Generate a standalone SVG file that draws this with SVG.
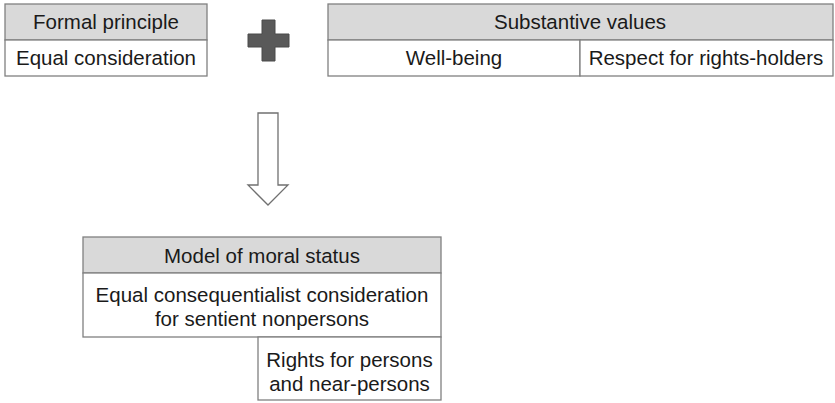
<svg xmlns="http://www.w3.org/2000/svg" width="835" height="403" viewBox="0 0 835 403">
<style>
.box{fill:#ffffff;stroke:#808080;stroke-width:1.3}
.hdr{fill:#d9d9d9;stroke:#808080;stroke-width:1.3}
text{font-family:"Liberation Sans",Arial,sans-serif;font-size:20.5px;fill:#1a1a1a;text-anchor:middle}
</style>
<rect width="835" height="403" fill="#ffffff"/>
<g id="formal">
<rect class="hdr" x="5" y="4" width="202" height="36"/>
<rect class="box" x="5" y="40" width="202" height="36"/>
<text x="106" y="29">Formal principle</text>
<text x="106" y="65">Equal consideration</text>
</g>
<g id="plus">
<path d="M262,20 H275 V34 H289 V47 H275 V61 H262 V47 H248 V34 H262 Z" fill="#595959" stroke="#4a4a4a" stroke-width="1"/>
</g>
<g id="substantive">
<rect class="hdr" x="328" y="4" width="505" height="36"/>
<rect class="box" x="328" y="40" width="252" height="36"/>
<rect class="box" x="580" y="40" width="253" height="36"/>
<text x="580" y="29">Substantive values</text>
<text x="454" y="65">Well-being</text>
<text x="706" y="65">Respect for rights-holders</text>
</g>
<g id="connectors">
<path d="M258,113 H278 V185 H288 L268,205 L248,185 H258 Z" fill="#ffffff" stroke="#707070" stroke-width="1.3"/>
</g>
<g id="model">
<rect class="hdr" x="83" y="237" width="358" height="36"/>
<rect class="box" x="83" y="273" width="358" height="64"/>
<rect class="box" x="258" y="337" width="183" height="63"/>
<text x="262" y="263">Model of moral status</text>
<text x="262" y="302">Equal consequentialist consideration</text>
<text x="262" y="326">for sentient nonpersons</text>
<text x="349.5" y="367">Rights for persons</text>
<text x="349.5" y="391">and near-persons</text>
</g>
</svg>
